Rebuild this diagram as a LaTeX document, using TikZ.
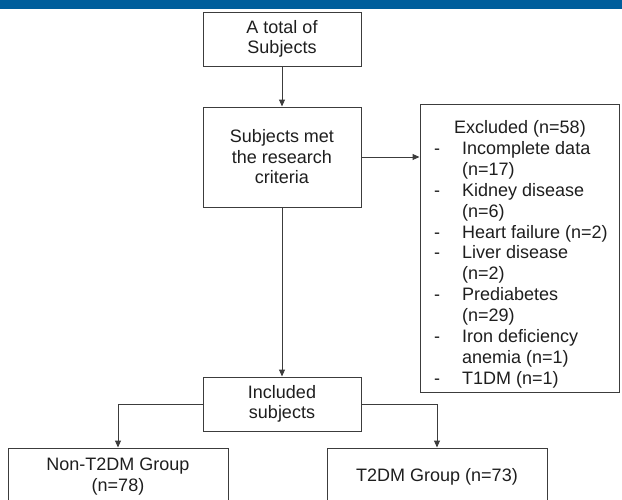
\documentclass[tikz,border=0pt]{standalone}
\usepackage{fontspec}
\setmainfont{Liberation Sans}
\usetikzlibrary{arrows.meta}
\definecolor{barblue}{RGB}{0,94,156}
\definecolor{linegray}{RGB}{60,60,60}
\definecolor{txt}{RGB}{30,30,30}
\begin{document}
\begin{tikzpicture}[x=1pt,y=-1pt,
  box/.style={draw=linegray, line width=1pt, align=center, inner sep=0pt,
    text=txt, font=\fontsize{18}{20.5}\selectfont},
  conn/.style={draw=linegray, line width=1pt, -{Triangle[width=6pt,length=7pt]}},
  plain/.style={draw=linegray, line width=1pt}]
\path[use as bounding box, clip] (0,0) rectangle (622,499);
\fill[barblue] (0,0) rectangle (622,8.5);
\node[box, minimum width=158pt, minimum height=54pt] (total) at (282,39) {A total of\\Subjects};
\node[box, minimum width=158pt, minimum height=100pt] (met) at (282,157) {Subjects met\\the research\\criteria};
\node[box, minimum width=199pt, minimum height=288pt] (excl) at (519.5,248) {};
\node[anchor=base west, inner sep=0pt, text=txt, font=\fontsize{18}{20.9}\selectfont] (exlist) at (434,133.5) {%
\begin{tabular}[t]{@{}p{28pt}@{}l@{}}
\multicolumn{2}{@{}l@{}}{\hspace{20pt}Excluded (n=58)}\\
-& Incomplete data\\
 & (n=17)\\
-& Kidney disease\\
 & (n=6)\\
-& Heart failure (n=2)\\
-& Liver disease\\
 & (n=2)\\
-& Prediabetes\\
 & (n=29)\\
-& Iron deficiency\\
 & anemia (n=1)\\
-& T1DM (n=1)
\end{tabular}};
\node[box, minimum width=158pt, minimum height=54pt] (inc) at (282,404) {Included\\subjects};
\node[box, minimum width=220pt, minimum height=57pt] (non) at (118,476.5) {Non-T2DM Group\\(n=78)};
\node[box, minimum width=220pt, minimum height=57pt] (t2) at (437,476.5) {T2DM Group (n=73)};
\draw[conn] (total.south) -- (met.north);
\draw[conn] (met.east) -- (met.east -| excl.west);
\draw[conn] (met.south) -- (inc.north);
\draw[conn] (inc.west) -| (non.north);
\draw[conn] (inc.east) -| (t2.north);
\end{tikzpicture}
\end{document}
